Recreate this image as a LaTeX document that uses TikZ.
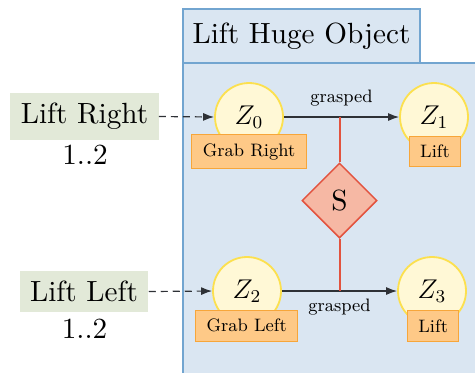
\documentclass[tikz,border=0pt]{standalone}
\usepackage{fontspec}
\usetikzlibrary{shapes.geometric,arrows.meta}

% the 10pt design of Latin Modern, used for the large labels at any size
\newfontfamily\lmten{lmroman10-regular.otf}

\definecolor{panelfill}{HTML}{DAE6F2}
\definecolor{paneldraw}{HTML}{72A5D0}
\definecolor{statefill}{HTML}{FFF8D6}
\definecolor{statedraw}{HTML}{FCE04E}
\definecolor{actfill}{HTML}{FEC987}
\definecolor{actdraw}{HTML}{F7A63A}
\definecolor{syncfill}{HTML}{F6B8A4}
\definecolor{syncdraw}{HTML}{E2533F}
\definecolor{agentfill}{HTML}{E2E9D8}
\definecolor{linegray}{HTML}{2E3136}

% state label: math set at 12pt, enlarged slightly
\newcommand{\statelabel}[1]{\scalebox{1.13}{$#1$}}

\tikzset{
  panel/.style={draw=paneldraw,fill=panelfill,line width=0.7pt},
  bigtext/.style={font=\lmten\fontsize{14.6}{17}\selectfont},
  smalltext/.style={font=\fontsize{9}{11}\selectfont},
  state/.style={circle,draw=statedraw,fill=statefill,line width=0.9pt,
    minimum size=34pt,inner sep=0pt,font=\fontsize{12}{14}\selectfont},
  act/.style={draw=actdraw,fill=actfill,line width=0.5pt,
    inner xsep=5.5pt,inner ysep=4.4pt,smalltext},
  agent/.style={fill=agentfill,inner xsep=5.2pt,inner ysep=5.1pt,bigtext},
  sync/.style={diamond,draw=syncdraw,fill=syncfill,line width=0.75pt,
    minimum width=37.5pt,minimum height=37.5pt,inner sep=0pt,bigtext},
  flow/.style={linegray,line width=0.6pt,-{Latex[length=5.5pt,width=4pt]}},
  entry/.style={linegray,line width=0.6pt,dash pattern=on 3.5pt off 2.5pt,
    -{Latex[length=5.5pt,width=4pt]}},
  syncline/.style={draw=syncdraw,line width=1pt}
}

\begin{document}
\begin{tikzpicture}[x=0.5pt,y=-0.5pt]
\useasboundingbox (0,0) rectangle (475,372);
\clip (0,0) rectangle (475,372);

% component frame with its title tab
\draw[panel] (183,63) rectangle (490,390);
\draw[panel] (183,9) rectangle (420,63);
\node[bigtext] (title) at (301.5,36) {Lift Huge Object};

% external roles and their multiplicities
\node[agent] (lr) at (84.5,116.5) {Lift Right};
\node[bigtext] (lrm) at (85,154.5) {1..2};
\node[agent] (ll) at (84,291.5) {Lift Left};
\node[bigtext] (llm) at (84.5,329) {1..2};

% states
\node[state] (z0) at (249,117) {\statelabel{Z_0}};
\node[state] (z1) at (434,117) {\statelabel{Z_1}};
\node[state] (z2) at (247,291) {\statelabel{Z_2}};
\node[state] (z3) at (432,291) {\statelabel{Z_3}};

% actions attached to the states
\node[act] (a0) at (249,151.6) {Grab Right};
\node[act] (a1) at (435,151.7) {Lift};
\node[act] (a2) at (246.7,325.8) {Grab Left};
\node[act] (a3) at (433.2,325.8) {Lift};

% synchronisation
\node[sync] (s) at (339.5,200.5) {S};

% transitions
\draw[flow] (z0) -- (z1);
\draw[flow] (z2) -- (z3);
\node[smalltext] (g0) at (341.5,98.5) {grasped};
\node[smalltext] (g2) at (339.5,307.5) {grasped};

\draw[syncline] (s.north) -- (s.north |- z0.east);
\draw[syncline] (s.south) -- (s.south |- z2.east);

% role entry points
\draw[entry] (lr.east) -- (z0.west);
\draw[entry] (ll.east) -- (z2.west);
\end{tikzpicture}
\end{document}
